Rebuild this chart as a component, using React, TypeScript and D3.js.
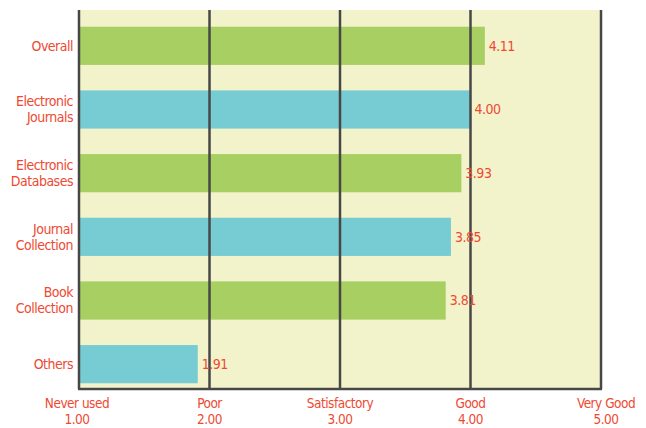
import React from 'react';
import * as d3 from 'd3';

// Library resource ratings (mean score, 1 = never used … 5 = very good)
const categories = [
  ['Overall'],
  ['Electronic', 'Journals'],
  ['Electronic', 'Databases'],
  ['Journal', 'Collection'],
  ['Book', 'Collection'],
  ['Others'],
];
const scores = [4.11, 4.0, 3.93, 3.85, 3.81, 1.91];
const scoreLabels = ['4.11', '4.00', '3.93', '3.85', '3.81', '1.91'];
const tickValues = [1, 2, 3, 4, 5];
const tickNames = ['Never used', 'Poor', 'Satisfactory', 'Good', 'Very Good'];

const W = 646;
const H = 428;
const plot = { left: 79, right: 601, top: 10, bottom: 389 };

const RED = '#ee4a33';
const FONT = "'DejaVu Sans Condensed', 'Liberation Sans Narrow', sans-serif";
const barColors = ['#a8cf62', '#77cbd2'];

export default function App() {
  const x = d3.scaleLinear().domain([1, 5]).range([plot.left, plot.right]);
  const y = d3
    .scaleBand<number>()
    .domain(d3.range(categories.length))
    .range([14, 396])
    .paddingInner(0.4)
    .paddingOuter(0.2);

  return (
    <div style={{ position: 'absolute', left: 0, top: 0 }}>
      <svg width={W} height={H} style={{ display: 'block', background: '#fff' }}>
        {/* plot background */}
        <rect
          x={plot.left}
          y={plot.top}
          width={plot.right - plot.left}
          height={plot.bottom - plot.top}
          fill="#f3f3cb"
        />

        {/* bars */}
        {scores.map((v, i) => (
          <rect
            key={i}
            x={x(1) + 1}
            y={y(i)}
            width={x(v) - x(1) - 1}
            height={y.bandwidth()}
            fill={barColors[i % 2]}
          />
        ))}

        {/* vertical grid lines */}
        {tickValues.map((t) => (
          <line
            key={t}
            x1={x(t)}
            x2={x(t)}
            y1={plot.top}
            y2={plot.bottom}
            stroke="#474747"
            strokeWidth={2.5}
          />
        ))}
        <line
          x1={plot.left - 1}
          x2={plot.right + 1}
          y1={plot.bottom}
          y2={plot.bottom}
          stroke="#474747"
          strokeWidth={2.5}
        />

        {/* value labels */}
        {scores.map((v, i) => (
          <text
            key={i}
            x={x(v) + 4}
            y={y(i)! + y.bandwidth() / 2}
            dy="0.35em"
            fill={RED}
            fontFamily={FONT}
            fontSize={14}
            letterSpacing={-0.5}
          >
            {scoreLabels[i]}
          </text>
        ))}

        {/* category labels */}
        {categories.map((lines, i) => {
          const cy = y(i)! + y.bandwidth() / 2;
          const lh = 16;
          const start = cy - ((lines.length - 1) * lh) / 2;
          return (
            <text
              key={i}
              textAnchor="end"
              fill={RED}
              fontFamily={FONT}
              fontSize={14}
              letterSpacing={-0.5}
            >
              {lines.map((l, j) => (
                <tspan key={j} x={plot.left - 6} y={start + j * lh} dy="0.35em">
                  {l}
                </tspan>
              ))}
            </text>
          );
        })}

        {/* x tick labels */}
        {tickValues.map((t, i) => {
          const tx = x(t) - (i === 0 ? 2 : 0) + (i === 4 ? 5 : 0);
          return (
            <g key={t} fill={RED} fontFamily={FONT} fontSize={13.5} letterSpacing={-0.5}>
              <text x={tx} y={408} textAnchor="middle">
                {tickNames[i]}
              </text>
              <text x={tx} y={424} textAnchor="middle">
                {d3.format('.2f')(t)}
              </text>
            </g>
          );
        })}
      </svg>
    </div>
  );
}
